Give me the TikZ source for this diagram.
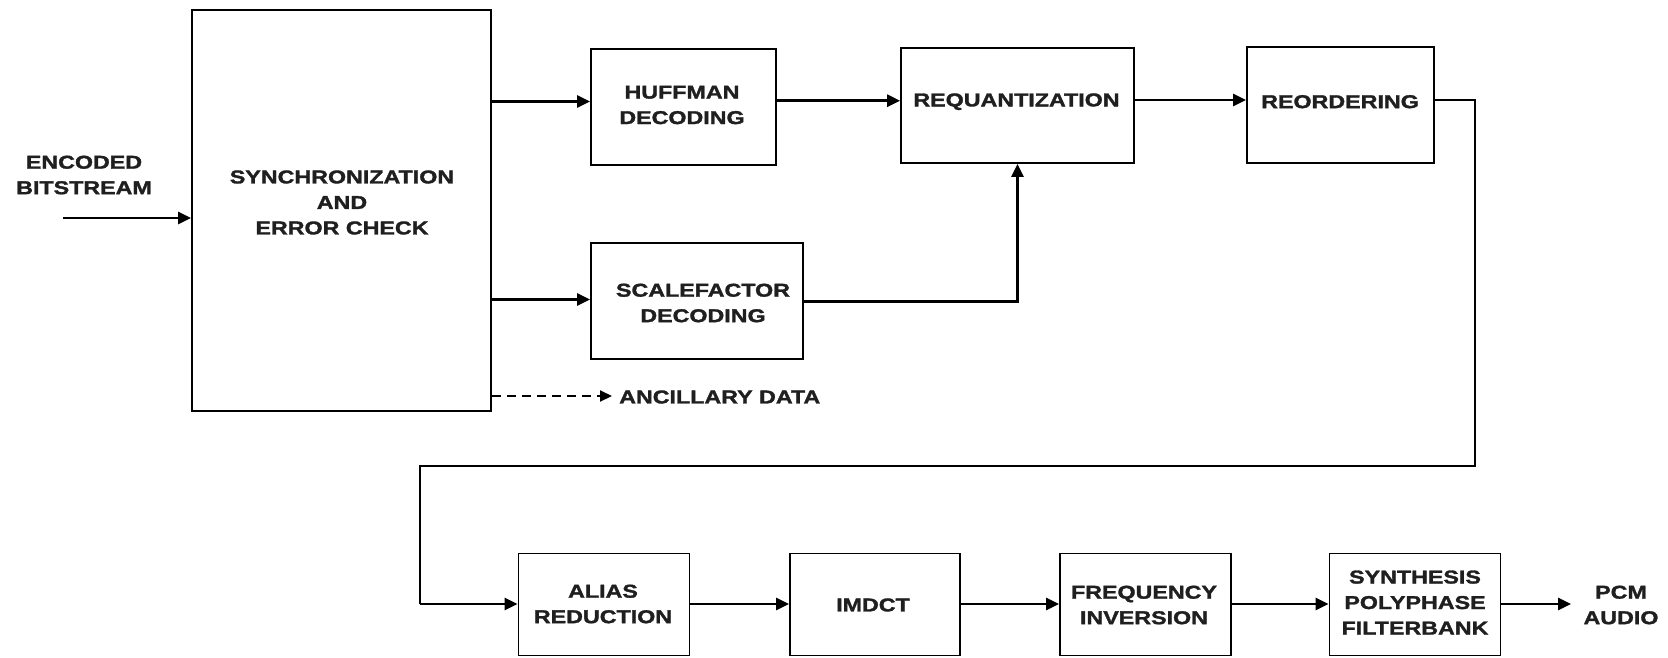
\documentclass[tikz,border=0pt]{standalone}
\usepackage{fontspec}
\setmainfont{Liberation Sans}[FakeStretch=1.25, BoldFeatures={FakeBold=1.6}]
\usetikzlibrary{arrows.meta}
\begin{document}
\begin{tikzpicture}[x=1pt,y=-1pt,
  box/.style={draw, line width=1.8pt, inner sep=0pt},
  lab/.style={font=\bfseries\fontsize{18.6}{25.5}\selectfont, align=center, inner sep=0pt, text=black!88},
  arr/.style={line width=2.7pt, -{Triangle[length=13pt,width=12pt]}},
  thinline/.style={line width=1.8pt},
  dasharr/.style={line width=2pt, dash pattern=on 9pt off 6pt, -{Triangle[length=12pt,width=11pt]}}]
\useasboundingbox (0,0) rectangle (1668,657);

% upper stage boxes
\node[box, minimum width=299pt, minimum height=401pt] (sync)  at (341.5,210.5) {};
\node[box, minimum width=185pt, minimum height=116pt] (huff)  at (683.5,107) {};
\node[box, minimum width=233pt, minimum height=115pt] (req)   at (1017.5,105.5) {};
\node[box, minimum width=187pt, minimum height=116pt] (reord) at (1340.5,105) {};
\node[box, minimum width=212pt, minimum height=116pt] (scale) at (697,301) {};

% lower stage boxes
\node[box, minimum width=171pt, minimum height=102pt] (alias) at (604,604.5) {};
\node[box, minimum width=170pt, minimum height=102pt] (imdct) at (875,604.5) {};
\node[box, minimum width=171pt, minimum height=102pt] (freq)  at (1145.5,604.5) {};
\node[box, minimum width=171pt, minimum height=102pt] (synth) at (1415,604.5) {};

% labels
\node[lab] (encT)   at (84,175)      {ENCODED\\BITSTREAM};
\node[lab] (syncT)  at (342,202.5)   {SYNCHRONIZATION\\AND\\ERROR CHECK};
\node[lab] (huffT)  at (682,105)     {HUFFMAN\\DECODING};
\node[lab] (reqT)   at (1016.5,101.7){REQUANTIZATION};
\node[lab] (reordT) at (1340,101.7)  {REORDERING};
\node[lab] (scaleT) at (703,303)     {SCALEFACTOR\\DECODING};
\node[lab, anchor=west] (ancT) at (619,397) {ANCILLARY DATA};
\node[lab] (aliasT) at (603,604)     {ALIAS\\REDUCTION};
\node[lab] (imdctT) at (873,605)     {IMDCT};
\node[lab] (freqT)  at (1144,605)    {FREQUENCY\\INVERSION};
\node[lab] (synthT) at (1415,602.5)  {SYNTHESIS\\POLYPHASE\\FILTERBANK};
\node[lab] (pcmT)   at (1621,605)    {PCM\\AUDIO};

% free ends and bends
\coordinate (in)     at (63,218);
\coordinate (loopA)  at (1475,100);
\coordinate (loopB)  at (1475,466);
\coordinate (loopC)  at (420,466);
\coordinate (loopD)  at (420,604);
\coordinate (out)    at (1571,604);
\coordinate (ancEnd) at (612,396);

% connectors, upper stage
\draw[arr] (in) -- (in -| sync.west);
\draw[arr] (sync.east |- 0,101.5) -- (huff.west |- 0,101.5);
\draw[arr] (sync.east |- 0,299.5) -- (scale.west |- 0,299.5);
\draw[arr] (huff.east |- 0,100.7) -- (req.west |- 0,100.7);
\draw[arr] (req.east |- 0,100) -- (reord.west |- 0,100);
\draw[arr] (scale.east |- 0,301.7) -| (req.south);
\draw[dasharr] (sync.east |- ancEnd) -- (ancEnd);

% loop from reordering down to the lower stage
\draw[thinline] (reord.east |- loopA) -- (loopA) -- (loopB) -- (loopC) -- (loopD);
\draw[arr] (loopD) -- (alias.west |- loopD);

% connectors, lower stage
\draw[arr] (alias.east |- loopD) -- (imdct.west |- loopD);
\draw[arr] (imdct.east |- loopD) -- (freq.west |- loopD);
\draw[arr] (freq.east |- loopD) -- (synth.west |- loopD);
\draw[arr] (synth.east |- out) -- (out);
\end{tikzpicture}
\end{document}
